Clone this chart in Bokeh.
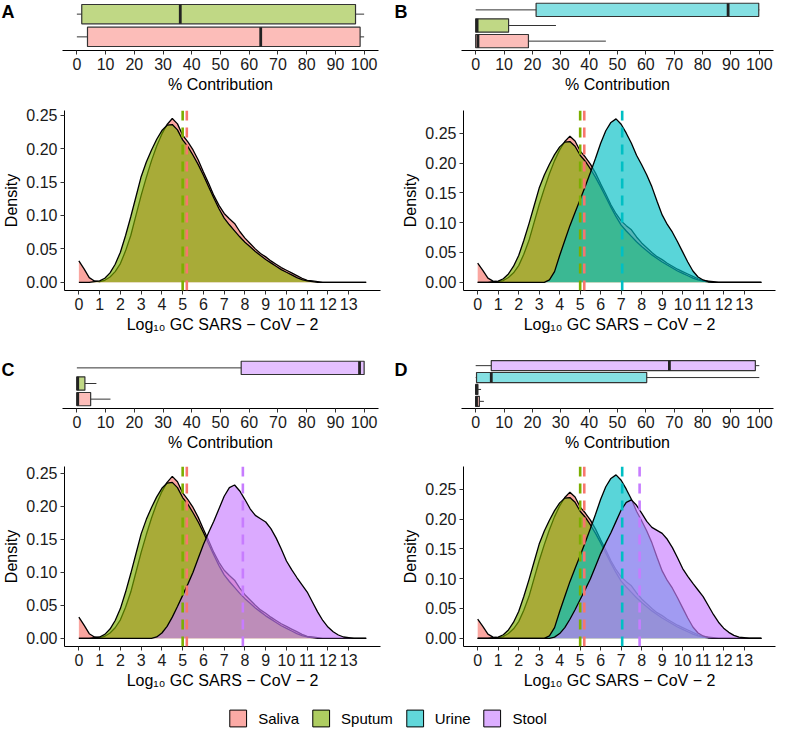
from bokeh.plotting import figure
from bokeh.models import (FactorRange, Range1d, FixedTicker, NumeralTickFormatter, Span,
                          Legend, LegendItem, ColumnDataSource)
from bokeh.core.properties import value
from bokeh.layouts import column, row
from bokeh.embed import file_html
from bokeh.resources import INLINE

FONT = "Liberation Sans"

specimens = ["Saliva", "Sputum", "Urine", "Stool"]
colors = {"Saliva": "#F8766D", "Sputum": "#7CAE00", "Urine": "#00BFC4", "Stool": "#C77CFF"}
panel_letters = ["A", "B", "C", "D"]

# ---- density data (x = Log10 GC SARS-CoV-2) ----
density_x = [0, 0.25, 0.5, 0.75, 1, 1.25, 1.5, 1.75, 2, 2.25, 2.5, 2.75, 3, 3.25, 3.5, 3.75,
             4, 4.25, 4.5, 4.75, 5, 5.25, 5.5, 5.75, 6, 6.25, 6.5, 6.75, 7, 7.25, 7.5, 7.75,
             8, 8.25, 8.5, 8.75, 9, 9.25, 9.5, 9.75, 10, 10.25, 10.5, 10.75, 11, 11.25, 11.5,
             11.75, 12, 12.25, 12.5, 12.75, 13, 13.25, 13.5, 13.84]

saliva_density = [0.032, 0.020, 0.007, 0.002, 0.001, 0.003, 0.008, 0.016, 0.028, 0.047, 0.070,
                  0.100, 0.130, 0.157, 0.182, 0.204, 0.222, 0.236, 0.245, 0.237, 0.220, 0.210,
                  0.198, 0.183, 0.165, 0.148, 0.130, 0.115, 0.103, 0.095, 0.088, 0.076, 0.066,
                  0.058, 0.050, 0.043, 0.038, 0.032, 0.027, 0.022, 0.018, 0.014, 0.010, 0.006,
                  0.003, 0.002, 0.001, 0, 0, 0, 0, 0, 0, 0, 0, 0]

sputum_density = [0, 0, 0, 0.001, 0.002, 0.006, 0.014, 0.027, 0.045, 0.070, 0.098, 0.128,
                  0.158, 0.180, 0.198, 0.214, 0.227, 0.235, 0.236, 0.228, 0.213, 0.203, 0.190,
                  0.176, 0.160, 0.143, 0.126, 0.110, 0.096, 0.086, 0.077, 0.068, 0.060, 0.053,
                  0.046, 0.040, 0.034, 0.029, 0.024, 0.019, 0.015, 0.011, 0.007, 0.004, 0.002,
                  0.001, 0, 0, 0, 0, 0, 0, 0, 0, 0, 0]

urine_density = [0, 0, 0, 0, 0, 0, 0, 0, 0, 0, 0, 0, 0, 0, 0.004, 0.018, 0.045, 0.070, 0.095,
                 0.117, 0.139, 0.161, 0.184, 0.208, 0.233, 0.254, 0.268, 0.274, 0.265, 0.250,
                 0.233, 0.213, 0.197, 0.180, 0.160, 0.136, 0.113, 0.097, 0.084, 0.068, 0.051,
                 0.034, 0.019, 0.009, 0.004, 0.001, 0, 0, 0, 0, 0, 0, 0, 0, 0, 0]

stool_density = [0, 0, 0, 0, 0, 0, 0, 0, 0, 0, 0, 0, 0, 0, 0, 0.002, 0.008, 0.018, 0.032,
                 0.048, 0.065, 0.082, 0.100, 0.121, 0.142, 0.160, 0.177, 0.196, 0.215, 0.228,
                 0.232, 0.223, 0.210, 0.196, 0.186, 0.181, 0.176, 0.166, 0.152, 0.135, 0.117,
                 0.104, 0.092, 0.081, 0.070, 0.055, 0.040, 0.027, 0.017, 0.010, 0.005, 0.002,
                 0.001, 0, 0, 0]

densities = {"Saliva": saliva_density, "Sputum": sputum_density,
             "Urine": urine_density, "Stool": stool_density}

mean_log10 = {"Saliva": 5.2, "Sputum": 5.0, "Urine": 7.05, "Stool": 7.9}

# ---- boxplot data (% contribution) ----
box_A_groups = ["Saliva", "Sputum"]
box_A_low = [0, 0]
box_A_q1 = [3.7, 1.7]
box_A_med = [64.0, 36.0]
box_A_q3 = [98.6, 97.0]
box_A_high = [100, 100]

box_B_groups = ["Saliva", "Sputum", "Urine"]
box_B_low = [0, 0, 0]
box_B_q1 = [0, 0, 21.3]
box_B_med = [0.8, 0.5, 89.0]
box_B_q3 = [18.6, 11.6, 99.8]
box_B_high = [45.9, 28.3, 100]

box_C_groups = ["Saliva", "Sputum", "Stool"]
box_C_low = [0, 0, 0]
box_C_q1 = [0, 0, 57.2]
box_C_med = [0.3, 0.3, 98.4]
box_C_q3 = [4.8, 2.8, 100]
box_C_high = [11.7, 6.8, 100]

box_D_groups = ["Saliva", "Sputum", "Urine", "Stool"]
box_D_low = [0, 0, 0, 0]
box_D_q1 = [0, 0, 0.3, 5.5]
box_D_med = [0.3, 0.3, 5.5, 68.3]
box_D_q3 = [1.3, 0.8, 60.3, 98.6]
box_D_high = [2.9, 1.9, 100, 100]

contribution_ticks = [0, 10, 20, 30, 40, 50, 60, 70, 80, 90, 100]
log_ticks = [0, 1, 2, 3, 4, 5, 6, 7, 8, 9, 10, 11, 12, 13]
density_ticks = [0, 0.05, 0.10, 0.15, 0.20, 0.25]

BOX_H = 98


def style_axis(ax):
    ax.axis_line_color = "black"
    ax.axis_line_width = 1
    ax.major_tick_line_color = "#333333"
    ax.major_tick_out = 4
    ax.major_tick_in = 0
    ax.minor_tick_line_color = None
    ax.major_label_text_font = FONT
    ax.major_label_text_font_size = "16px"
    ax.major_label_text_color = "#1a1a1a"
    ax.major_label_standoff = 3
    ax.axis_label_text_font = FONT
    ax.axis_label_text_font_size = "16px"
    ax.axis_label_text_font_style = "normal"
    ax.axis_label_text_color = "black"
    ax.axis_label_standoff = 3


def letter_fig(letter, w, xpos):
    p = figure(width=w, height=BOX_H, x_range=Range1d(0, w), y_range=Range1d(0, BOX_H),
               output_backend="svg", toolbar_location=None, x_axis_location=None,
               y_axis_location=None, min_border=0)
    p.grid.visible = False
    p.outline_line_color = None
    p.text(x=[xpos], y=[BOX_H - 3], text=[letter], text_font=value(FONT),
           text_font_size="18px", text_font_style="bold", text_baseline="top",
           text_align="left", text_color="black")
    return p


def box_fig(groups, low, q1, med, q3, high, bl, fw, br):
    p = figure(frame_width=fw, frame_height=50,
               x_range=Range1d(-5, 105),
               y_range=FactorRange(factors=groups, range_padding=0.1,
                                   range_padding_units="absolute"),
               output_backend="svg", toolbar_location=None, y_axis_location=None,
               min_border_left=bl, min_border_right=br, min_border_top=0,
               min_border_bottom=BOX_H - 50)
    p.grid.visible = False
    p.outline_line_color = None
    src = ColumnDataSource(dict(g=groups, low=low, q1=q1, med=med, q3=q3, high=high,
                                fill=[colors[g] for g in groups]))
    p.segment(x0="low", y0="g", x1="q1", y1="g", source=src, line_color="#333333", line_width=1)
    p.segment(x0="q3", y0="g", x1="high", y1="g", source=src, line_color="#333333", line_width=1)
    p.hbar(y="g", left="q1", right="q3", height=0.85, source=src, fill_color="fill",
           fill_alpha=0.48, line_color="#333333", line_width=1.2)
    p.rect(x="med", y="g", width=2.8, width_units="screen", height=0.85, source=src,
           fill_color="#222222", line_color=None)
    p.xaxis.ticker = FixedTicker(ticks=contribution_ticks)
    p.xaxis.axis_label = "% Contribution"
    style_axis(p.xaxis[0])
    return p


def dens_fig(groups, ylo, yhi, bl, fw, br, bt, bb):
    p = figure(frame_width=fw, frame_height=180,
               x_range=Range1d(-0.692, 14.53), y_range=Range1d(ylo, yhi),
               output_backend="svg", toolbar_location=None,
               min_border_left=bl, min_border_right=br, min_border_top=bt,
               min_border_bottom=bb)
    p.grid.visible = False
    p.outline_line_color = None
    for g in groups:
        p.varea(x=density_x, y1=[0] * len(density_x), y2=densities[g],
                fill_color=colors[g], fill_alpha=0.65)
        p.line(x=density_x, y=densities[g], line_color="black", line_width=1.3)
    for g in groups:
        p.add_layout(Span(location=mean_log10[g], dimension="height", line_color=colors[g],
                          line_dash="10 7", line_width=2.6))
    p.xaxis.ticker = FixedTicker(ticks=log_ticks)
    p.yaxis.ticker = FixedTicker(ticks=density_ticks)
    p.yaxis.formatter = NumeralTickFormatter(format="0.00")
    p.xaxis.axis_label = "Log\u2081\u2080 GC SARS \u2212 CoV \u2212 2"
    p.yaxis.axis_label = "Density"
    style_axis(p.xaxis[0])
    style_axis(p.yaxis[0])
    return p


LBL, LFW, LBR = 62, 316, 8
RBL, RFW, RBR = 75, 312, 1
LETW = 22

boxA = box_fig(box_A_groups, box_A_low, box_A_q1, box_A_med, box_A_q3, box_A_high, LBL - LETW, LFW, LBR)
boxB = box_fig(box_B_groups, box_B_low, box_B_q1, box_B_med, box_B_q3, box_B_high, RBL - LETW, RFW, RBR)
boxC = box_fig(box_C_groups, box_C_low, box_C_q1, box_C_med, box_C_q3, box_C_high, LBL - LETW, LFW, LBR)
boxD = box_fig(box_D_groups, box_D_low, box_D_q1, box_D_med, box_D_q3, box_D_high, RBL - LETW, RFW, RBR)

letA = letter_fig(panel_letters[0], LETW, 1)
letB = letter_fig(panel_letters[1], LETW, 8)
letC = letter_fig(panel_letters[2], LETW, 1)
letD = letter_fig(panel_letters[3], LETW, 8)

densA = dens_fig(["Saliva", "Sputum"], -0.0123, 0.257, LBL, LFW, LBR, 12, 68)
densB = dens_fig(["Saliva", "Sputum", "Urine"], -0.0137, 0.288, RBL, RFW, RBR, 12, 68)
densC = dens_fig(["Saliva", "Sputum", "Stool"], -0.0124, 0.260, LBL, LFW, LBR, 10, 54)
densD = dens_fig(["Saliva", "Sputum", "Urine", "Stool"], -0.0137, 0.288, RBL, RFW, RBR, 10, 54)

# ---- legend ----
lp = figure(width=774, height=36, x_range=Range1d(0, 1), y_range=Range1d(0, 1),
            output_backend="svg", toolbar_location=None, x_axis_location=None,
            y_axis_location=None, min_border=0)
lp.grid.visible = False
lp.outline_line_color = None
items = []
for g in specimens:
    # key glyphs only: their quads lie outside the visible range of this strip
    r = lp.quad(left=[2], right=[3], top=[3], bottom=[2], fill_color=colors[g], fill_alpha=0.62,
                line_color="black", line_width=1)
    items.append(LegendItem(label=g, renderers=[r]))
legend = Legend(items=items, orientation="horizontal", location="center",
                border_line_color=None, background_fill_alpha=0, label_text_font=FONT,
                label_text_font_size="15px", label_text_color="black", glyph_width=21,
                glyph_height=21, spacing=11, label_standoff=10, padding=0, margin=0)
lp.add_layout(legend)

layout = column(row(letA, boxA, letB, boxB), row(densA, densB),
                row(letC, boxC, letD, boxD), row(densC, densD), lp)

with open("out.html", "w") as f:
    f.write(file_html(layout, INLINE))
